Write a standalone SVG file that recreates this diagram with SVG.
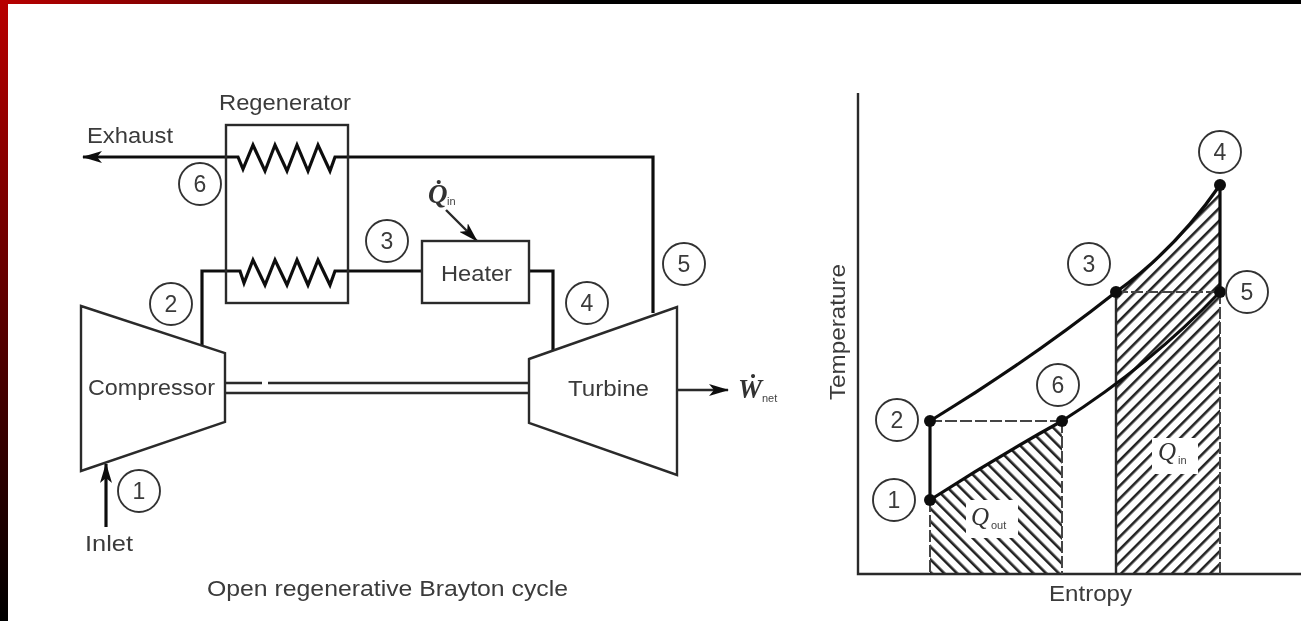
<svg xmlns="http://www.w3.org/2000/svg" width="1301" height="621" viewBox="0 0 1301 621">
<style>
.s{fill:none;stroke:#2a2a2a;stroke-width:2.4;stroke-linejoin:miter}
.t{fill:none;stroke:#111;stroke-width:3.2}
.c{fill:none;stroke:#333;stroke-width:1.9}
.d{fill:none;stroke:#444;stroke-width:2;stroke-dasharray:12 3}
text{font-family:"Liberation Sans",Arial,sans-serif;fill:#3a3a3a;font-size:22px}
.m{text-anchor:middle;font-size:23px}
.q{font-family:"Liberation Serif",serif;font-style:italic;font-weight:bold;fill:#333;font-size:27px}
.u{font-size:11px;fill:#444}
.dot{fill:#111;stroke:none}
</style>
<defs>
<linearGradient id="gl" x1="0" y1="0" x2="0" y2="1"><stop offset="0" stop-color="#b80000"/><stop offset="1" stop-color="#000"/></linearGradient>
<linearGradient id="gt" x1="0" y1="0" x2="1" y2="0"><stop offset="0" stop-color="#b80000"/><stop offset=".33" stop-color="#300000"/><stop offset=".45" stop-color="#000"/></linearGradient>
<pattern id="hb" width="9" height="9" patternUnits="userSpaceOnUse" patternTransform="rotate(-45)"><rect x="0" y="0" width="2.6" height="9" fill="#222"/></pattern>
<pattern id="hf" width="9" height="9" patternUnits="userSpaceOnUse" patternTransform="rotate(45)"><rect x="0" y="0" width="2.6" height="9" fill="#222"/></pattern>
<marker id="a" viewBox="0 0 20 12" refX="19" refY="6" markerWidth="20" markerHeight="12" markerUnits="userSpaceOnUse" orient="auto"><path d="M0 0 L20 6 L0 12 L5 6 Z" fill="#111"/></marker>
<filter id="b" x="-2%" y="-2%" width="104%" height="104%"><feGaussianBlur stdDeviation="0.6"/></filter>
</defs>
<rect width="1301" height="621" fill="#fff"/>
<rect x="0" y="0" width="1301" height="4" fill="url(#gt)"/>
<rect x="0" y="0" width="8" height="621" fill="url(#gl)"/>
<g filter="url(#b)">
<g id="connectors">
<path class="t" d="M226 157H238L243 169L253 145L265 171L275 145L287 171L297 145L308 171L318 145L330 171L335 157H653V313"/>
<path class="t" d="M226 157H83" marker-end="url(#a)"/>
<path class="t" d="M202 346V271H240L244 283L253 260L265 285L275 260L287 285L297 260L308 285L318 260L330 285L335 271H422"/>
<path class="t" d="M529 271H553V350"/>
<path class="s" d="M446 210L477 241" marker-end="url(#a)"/>
<path class="s" d="M677 390H728" marker-end="url(#a)"/>
<path class="t" d="M106 527V464" marker-end="url(#a)"/>
<path class="s" d="M225 383H262M268 383H529M225 393H529"/>
</g>
<g id="regenerator"><rect class="s" x="226" y="125" width="122" height="178"/><text x="219" y="110" textLength="132" lengthAdjust="spacingAndGlyphs">Regenerator</text></g>
<g id="heater"><rect class="s" x="422" y="241" width="107" height="62"/><text x="441" y="281" textLength="71" lengthAdjust="spacingAndGlyphs">Heater</text></g>
<g id="compressor"><path class="s" d="M81 306L225 353V422L81 471Z"/><text x="88" y="395" textLength="127" lengthAdjust="spacingAndGlyphs">Compressor</text></g>
<g id="turbine"><path class="s" d="M529 359L677 307V475L529 423Z"/><text x="568" y="396" textLength="81" lengthAdjust="spacingAndGlyphs">Turbine</text></g>
<g id="labels">
<text x="87" y="143" textLength="86" lengthAdjust="spacingAndGlyphs">Exhaust</text>
<text x="85" y="551" textLength="48" lengthAdjust="spacingAndGlyphs">Inlet</text>
<text x="207" y="596" textLength="361" lengthAdjust="spacingAndGlyphs">Open regenerative Brayton cycle</text>
<text class="q" x="428" y="203">Q̇</text><text class="u" x="447" y="205">in</text>
<text class="q" x="738" y="398">Ẇ</text><text class="u" x="762" y="402">net</text>
</g>
<g id="state-left">
<circle class="c" cx="200" cy="184" r="21"/><text class="m" x="200" y="192">6</text>
<circle class="c" cx="171" cy="304" r="21"/><text class="m" x="171" y="312">2</text>
<circle class="c" cx="387" cy="241" r="21"/><text class="m" x="387" y="249">3</text>
<circle class="c" cx="587" cy="303" r="21"/><text class="m" x="587" y="311">4</text>
<circle class="c" cx="684" cy="264" r="21"/><text class="m" x="684" y="272">5</text>
<circle class="c" cx="139" cy="491" r="21"/><text class="m" x="139" y="499">1</text>
</g>
<g id="ts-diagram">
<path d="M930 500Q995 458 1062 421V574H930Z" fill="url(#hb)"/>
<path d="M1116 292Q1175 250 1220 185V574H1116Z" fill="url(#hf)"/>
<rect x="966" y="500" width="52" height="38" fill="#fff"/>
<rect x="1152" y="438" width="46" height="36" fill="#fff"/>
<text class="q" x="971" y="525" style="font-weight:normal;font-size:25px">Q</text><text class="u" x="991" y="529">out</text>
<text class="q" x="1158" y="460" style="font-weight:normal;font-size:25px">Q</text><text class="u" x="1178" y="464">in</text>
<path class="s" d="M858 93V574H1301"/>
<path class="s" d="M1116 292V574"/>
<path class="d" d="M930 500V574M1062 421V574M1220 292V574M930 421H1062M1116 292H1220"/>
<path class="t" d="M930 500V421Q1030 360 1116 292Q1175 250 1220 185V292"/>
<path class="t" d="M930 500Q995 458 1062 421Q1150 365 1220 292"/>
<circle class="dot" cx="930" cy="500" r="6"/><circle class="dot" cx="930" cy="421" r="6"/><circle class="dot" cx="1062" cy="421" r="6"/><circle class="dot" cx="1116" cy="292" r="6"/><circle class="dot" cx="1220" cy="292" r="6"/><circle class="dot" cx="1220" cy="185" r="6"/>
<text x="1049" y="601" textLength="83" lengthAdjust="spacingAndGlyphs">Entropy</text>
<text transform="translate(845 400) rotate(-90)" x="0" y="0" textLength="136" lengthAdjust="spacingAndGlyphs">Temperature</text>
<circle class="c" cx="1220" cy="152" r="21"/><text class="m" x="1220" y="160">4</text>
<circle class="c" cx="1089" cy="264" r="21"/><text class="m" x="1089" y="272">3</text>
<circle class="c" cx="1247" cy="292" r="21"/><text class="m" x="1247" y="300">5</text>
<circle class="c" cx="1058" cy="385" r="21"/><text class="m" x="1058" y="393">6</text>
<circle class="c" cx="897" cy="420" r="21"/><text class="m" x="897" y="428">2</text>
<circle class="c" cx="894" cy="500" r="21"/><text class="m" x="894" y="508">1</text>
</g>
</g>
</svg>
